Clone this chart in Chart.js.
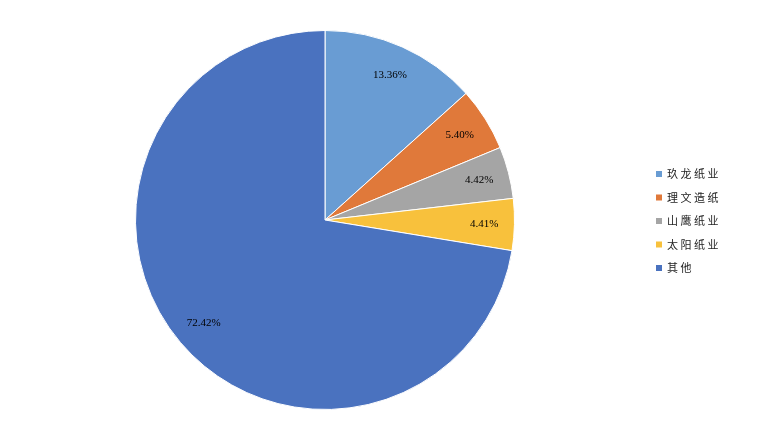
<!DOCTYPE html>
<html><head><meta charset="utf-8">
<script src="https://cdn.jsdelivr.net/npm/chart.js@4/dist/chart.umd.min.js"></script>
<style>html,body{margin:0;padding:0;background:#fff}#w{width:764px;height:448px}</style>
</head><body><div id="w"><canvas id="c"></canvas></div>
<script>
const labels = ['玖龙纸业','理文造纸','山鹰纸业','太阳纸业','其他'];
const values = [13.36, 5.40, 4.42, 4.41, 72.42];
const colors = ['#699CD3','#E0793A','#A5A5A5','#F8C13C','#4A72BF'];

const labelPlugin = {
  id: 'lbl',
  afterDatasetsDraw(chart) {
    const ctx = chart.ctx;
    const meta = chart.getDatasetMeta(0);
    ctx.save();
    ctx.font = '11px "Liberation Serif", serif';
    ctx.fillStyle = '#000';
    ctx.textAlign = 'center'; ctx.textBaseline = 'middle';
    meta.data.forEach((arc, i) => {
      const a = (arc.startAngle + arc.endAngle) / 2;
      const r = arc.outerRadius * 0.84;
      ctx.fillText(values[i].toFixed(2) + '%', arc.x + Math.cos(a) * r, arc.y + Math.sin(a) * r);
    });
    // legend
    ctx.font = '11px "Noto Sans CJK SC", sans-serif';
    ctx.textAlign = 'left';
    labels.forEach((l, i) => {
      const y = 174 + i * 23.5;
      ctx.fillStyle = colors[i];
      ctx.fillRect(656, y - 3, 6, 6);
      ctx.fillStyle = '#222';
      ctx.fillText(l.split('').join(' '), 667, y);
    });
    ctx.restore();
  }
};

new Chart(document.getElementById('c'), {
  type: 'pie',
  data: { labels, datasets: [{ data: values, backgroundColor: colors, borderColor: '#fff', borderWidth: 1 }] },
  options: {
    responsive: true, maintainAspectRatio: false, animation: false,
    layout: { padding: { left: 135, right: 249, top: 30, bottom: 38 } },
    plugins: { legend: { display: false }, tooltip: { enabled: false } }
  },
  plugins: [labelPlugin]
});
</script></body></html>
